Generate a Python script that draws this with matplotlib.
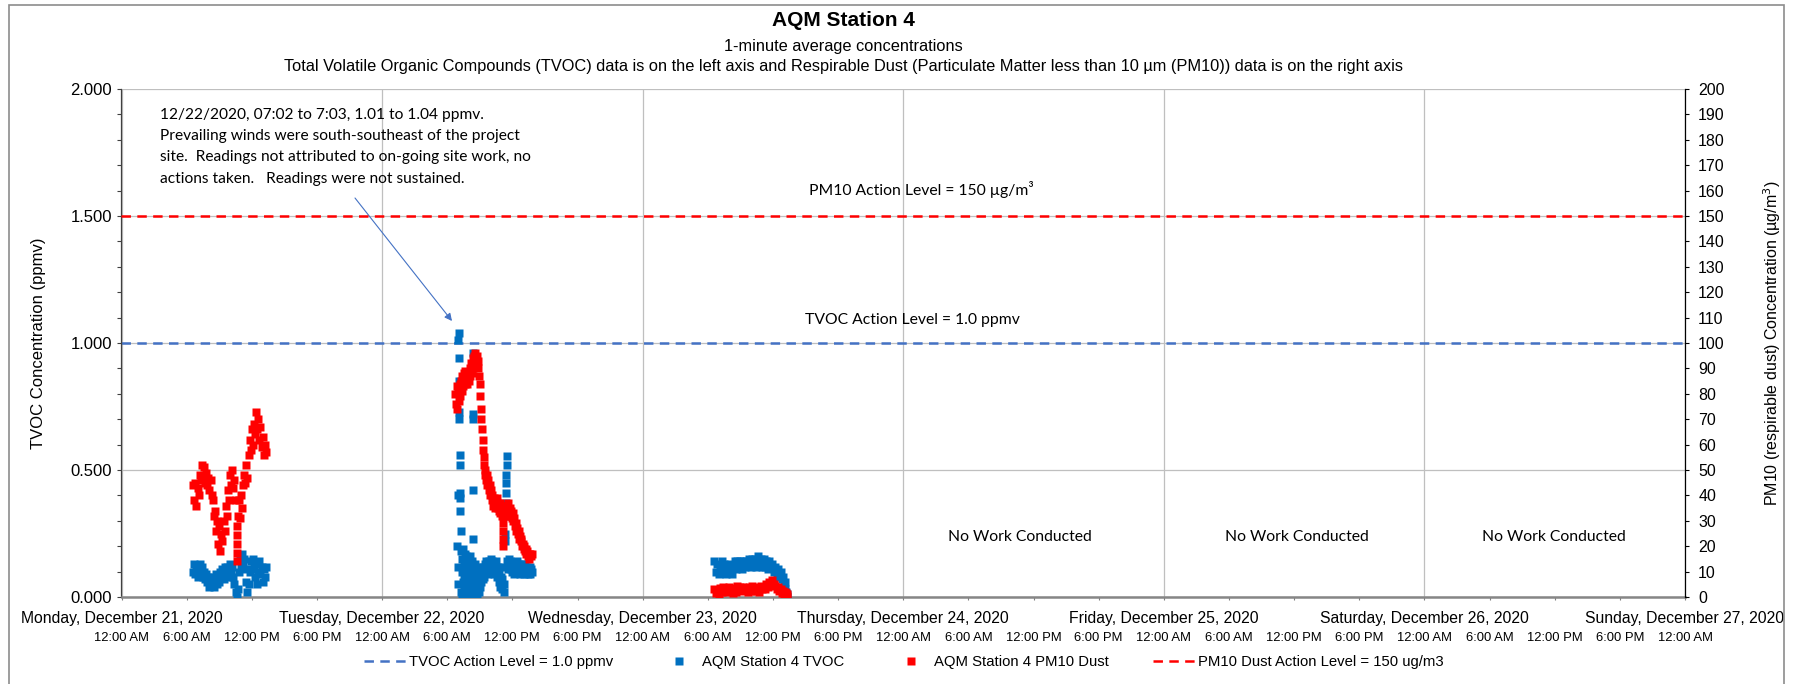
import matplotlib
matplotlib.use("Agg")
import matplotlib.pyplot as plt
import matplotlib.dates as mdates
from matplotlib.lines import Line2D
from matplotlib.patches import Rectangle
from matplotlib.ticker import MultipleLocator, FuncFormatter
import pandas as pd

plt.rcParams['font.family'] = ['Liberation Sans', 'DejaVu Sans']
plt.rcParams['lines.scale_dashes'] = False

# ---------------- data ----------------
title = "AQM Station 4"
subtitle1 = "1-minute average concentrations"
subtitle2 = ("Total Volatile Organic Compounds (TVOC) data is on the left axis and Respirable Dust "
             "(Particulate Matter less than 10 µm (PM10)) data is on the right axis")
day_ticks = ["2020-12-21", "2020-12-22", "2020-12-23", "2020-12-24",
             "2020-12-25", "2020-12-26", "2020-12-27"]
tvoc_action = 1.0
pm10_action = 150
legend_labels = ["TVOC Action Level = 1.0 ppmv", "AQM Station 4 TVOC",
                 "AQM Station 4 PM10 Dust", "PM10 Dust Action Level = 150 ug/m3"]
note_lines = ["12/22/2020, 07:02 to 7:03, 1.01 to 1.04 ppmv.",
              "Prevailing winds were south-southeast of the project",
              "site.  Readings not attributed to on-going site work, no",
              "actions taken.   Readings were not sustained."]
no_work_text = "No Work Conducted"

# Monday Dec 21 (time, TVOC ppmv)
tvoc_dec21 = [("06:36", .10), ("06:42", .13), ("06:48", .09), ("06:54", .12), ("07:00", .08), ("07:06", .11),
              ("07:12", .13), ("07:18", .09), ("07:24", .12), ("07:30", .08), ("07:36", .10), ("07:42", .07),
              ("07:48", .09), ("07:54", .06), ("08:00", .08), ("08:06", .04), ("08:12", .07), ("08:18", .05),
              ("08:24", .08), ("08:30", .04), ("08:36", .06), ("08:42", .09), ("08:48", .05), ("08:54", .08),
              ("09:00", .06), ("09:06", .10), ("09:12", .08), ("09:18", .11), ("09:24", .07), ("09:30", .12),
              ("09:36", .09), ("09:42", .12), ("09:48", .08), ("09:54", .11), ("10:00", .13), ("10:06", .09),
              ("10:12", .12), ("10:18", .08), ("10:24", .05), ("10:30", .02), ("10:36", .00), ("10:42", .03),
              ("10:48", .10), ("10:54", .15), ("11:00", .12), ("11:06", .17), ("11:12", .13), ("11:18", .15),
              ("11:24", .11), ("11:30", .06), ("11:36", .02), ("11:42", .05), ("11:48", .10), ("11:54", .14),
              ("12:00", .11), ("12:06", .15), ("12:12", .12), ("12:18", .08), ("12:24", .13), ("12:30", .05),
              ("12:36", .10), ("12:42", .14), ("12:48", .09), ("12:54", .12), ("13:00", .06), ("13:06", .11),
              ("13:12", .08), ("13:18", .12)]
# Monday Dec 21 (time, PM10 ug/m3)
pm10_dec21 = [("06:36", 44), ("06:42", 38), ("06:48", 45), ("06:54", 36), ("07:00", 43), ("07:06", 40),
              ("07:12", 48), ("07:18", 46), ("07:24", 52), ("07:30", 47), ("07:36", 51), ("07:42", 45),
              ("07:48", 49), ("07:54", 44), ("08:00", 47), ("08:06", 42), ("08:12", 46), ("08:18", 40),
              ("08:24", 38), ("08:30", 32), ("08:36", 34), ("08:42", 26), ("08:48", 30), ("08:54", 21),
              ("09:00", 28), ("09:06", 18), ("09:12", 25), ("09:18", 22), ("09:24", 30), ("09:30", 26),
              ("09:36", 36), ("09:42", 32), ("09:48", 42), ("09:54", 38), ("10:00", 48), ("10:06", 44),
              ("10:12", 50), ("10:18", 43), ("10:24", 46), ("10:30", 38), ("10:36", 28), ("10:36", 24.5),
              ("10:36", 21), ("10:36", 17.5), ("10:36", 14), ("10:42", 32), ("10:48", 38), ("10:54", 31),
              ("11:00", 40), ("11:06", 35), ("11:12", 44), ("11:18", 48), ("11:24", 45), ("11:30", 52),
              ("11:36", 47), ("11:42", 56), ("11:48", 62), ("11:54", 58), ("12:00", 66), ("12:06", 60),
              ("12:12", 68), ("12:18", 64), ("12:24", 73), ("12:30", 66), ("12:36", 70), ("12:42", 62),
              ("12:48", 67), ("12:54", 59), ("13:00", 63), ("13:06", 56), ("13:12", 60), ("13:18", 57)]

# Tuesday Dec 22 (time, TVOC ppmv)
tvoc_dec22 = [("06:56", .20), ("06:58", .05), ("07:00", .12), ("07:01", .40), ("07:02", 1.01), ("07:03", 1.04),
              ("07:04", .94), ("07:05", .85), ("07:06", .73), ("07:07", .70), ("07:08", .56), ("07:09", .52),
              ("07:10", .41), ("07:11", .39), ("07:12", .34), ("07:14", .26), ("07:16", .18), ("07:18", .02),
              ("07:20", .10), ("07:22", .00), ("07:24", .15), ("07:26", .06), ("07:28", .19), ("07:30", .08),
              ("07:32", .13), ("07:34", .03), ("07:36", .17), ("07:38", .07), ("07:40", .12), ("07:42", .01),
              ("07:44", .16), ("07:46", .09), ("07:48", .14), ("07:50", .04), ("07:52", .11), ("07:54", .06),
              ("07:56", .15), ("07:58", .02), ("08:00", .10), ("08:02", .13), ("08:04", .05), ("08:06", .16),
              ("08:08", .08), ("08:10", .12), ("08:12", .00), ("08:14", .09), ("08:16", .14), ("08:18", .04),
              ("08:20", .23), ("08:22", .96), ("08:23", .72), ("08:24", .70), ("08:25", .42), ("08:26", .10),
              ("08:28", .06), ("08:30", .12), ("08:32", .02), ("08:34", .08), ("08:36", .13), ("08:38", .04),
              ("08:40", .10), ("08:42", .01), ("08:44", .07), ("08:46", .11), ("08:48", .03), ("08:50", .09),
              ("08:52", .05), ("08:54", .12), ("08:56", .02), ("08:58", .08), ("09:00", .04), ("09:04", .10),
              ("09:08", .06), ("09:12", .11), ("09:16", .07), ("09:20", .12), ("09:24", .08), ("09:28", .13),
              ("09:32", .10), ("09:36", .14), ("09:40", .11), ("09:44", .13), ("09:48", .09), ("09:52", .14),
              ("09:56", .11), ("10:00", .15), ("10:04", .12), ("10:08", .14), ("10:12", .10), ("10:16", .13),
              ("10:20", .09), ("10:24", .12), ("10:28", .14), ("10:32", .11), ("10:36", .08), ("10:40", .12),
              ("10:44", .06), ("10:48", .10), ("10:52", .04), ("10:56", .08), ("11:00", .03), ("11:04", .07),
              ("11:08", .12), ("11:12", .05), ("11:16", .02), ("11:20", .22), ("11:21", .25), ("11:22", .32),
              ("11:23", .34), ("11:24", .37), ("11:25", .41), ("11:26", .45), ("11:27", .48), ("11:28", .52),
              ("11:29", .555), ("11:32", .14), ("11:36", .11), ("11:40", .15), ("11:44", .12), ("11:48", .14),
              ("11:52", .11), ("11:56", .13), ("12:00", .10), ("12:04", .12), ("12:08", .09), ("12:12", .13),
              ("12:16", .10), ("12:20", .12), ("12:24", .14), ("12:28", .11), ("12:32", .13), ("12:36", .10),
              ("12:40", .12), ("12:44", .09), ("12:48", .11), ("12:52", .13), ("12:56", .10), ("13:00", .12),
              ("13:04", .09), ("13:08", .11), ("13:12", .13), ("13:16", .10), ("13:20", .12), ("13:24", .09),
              ("13:28", .11), ("13:32", .10), ("13:36", .12), ("13:40", .09), ("13:44", .11), ("13:48", .10)]
# Tuesday Dec 22 (time, PM10 ug/m3)
pm10_dec22 = [("06:44", 80), ("06:48", 76), ("06:52", 83), ("06:56", 74), ("07:00", 81), ("07:04", 77),
              ("07:08", 84), ("07:12", 79), ("07:16", 85), ("07:20", 81), ("07:24", 87), ("07:28", 83),
              ("07:32", 88), ("07:36", 84), ("07:40", 89), ("07:44", 85), ("07:48", 87), ("07:52", 84),
              ("07:56", 88), ("08:00", 85), ("08:04", 90), ("08:08", 87), ("08:12", 92), ("08:16", 88),
              ("08:20", 94), ("08:24", 90), ("08:28", 95), ("08:32", 91), ("08:36", 96), ("08:40", 92),
              ("08:44", 95), ("08:48", 90), ("08:52", 93), ("08:56", 87), ("09:00", 84), ("09:03", 79),
              ("09:06", 74), ("09:09", 70), ("09:12", 66), ("09:15", 62), ("09:18", 58), ("09:21", 55),
              ("09:24", 52), ("09:27", 50), ("09:30", 48), ("09:34", 46), ("09:38", 48), ("09:42", 44),
              ("09:46", 46), ("09:50", 42), ("09:54", 44), ("09:58", 40), ("10:02", 42), ("10:06", 38),
              ("10:10", 40), ("10:14", 36), ("10:18", 39), ("10:22", 35), ("10:26", 38), ("10:30", 36),
              ("10:34", 39), ("10:38", 35), ("10:42", 37), ("10:46", 34), ("10:50", 37), ("10:54", 33),
              ("10:58", 36), ("11:02", 32), ("11:06", 29), ("11:07", 26), ("11:08", 23), ("11:09", 20),
              ("11:10", 33), ("11:14", 36), ("11:18", 32), ("11:22", 35), ("11:26", 33), ("11:30", 36),
              ("11:34", 34), ("11:38", 37), ("11:42", 33), ("11:46", 35), ("11:50", 32), ("11:54", 34),
              ("11:58", 31), ("12:02", 33), ("12:06", 30), ("12:10", 31), ("12:14", 28), ("12:18", 29),
              ("12:22", 26), ("12:26", 27), ("12:30", 25), ("12:34", 26), ("12:38", 23), ("12:42", 24),
              ("12:46", 22), ("12:50", 23), ("12:54", 20), ("12:58", 21), ("13:02", 19), ("13:06", 20),
              ("13:10", 18), ("13:14", 19), ("13:18", 17), ("13:22", 18), ("13:26", 16), ("13:30", 17),
              ("13:34", 15), ("13:38", 17), ("13:42", 16), ("13:46", 17)]

# Wednesday Dec 23 (time, TVOC ppmv)
tvoc_dec23 = [("06:36", .14), ("06:44", .10), ("06:52", .13), ("07:00", .09), ("07:08", .12), ("07:16", .14),
              ("07:24", .10), ("07:32", .13), ("07:40", .09), ("07:48", .12), ("07:56", .10), ("08:04", .13),
              ("08:12", .09), ("08:20", .12), ("08:28", .14), ("08:36", .11), ("08:44", .14), ("08:52", .12),
              ("09:00", .14), ("09:08", .11), ("09:16", .14), ("09:24", .12), ("09:32", .14), ("09:40", .13),
              ("09:48", .15), ("09:56", .12), ("10:04", .15), ("10:12", .13), ("10:20", .15), ("10:28", .12),
              ("10:36", .16), ("10:44", .13), ("10:52", .15), ("11:00", .12), ("11:08", .15), ("11:16", .12),
              ("11:24", .14), ("11:32", .11), ("11:40", .14), ("11:48", .12), ("11:56", .13), ("12:04", .10),
              ("12:12", .12), ("12:20", .08), ("12:28", .11), ("12:36", .09), ("12:44", .10), ("12:50", .07),
              ("12:56", .08), ("13:00", .05), ("13:04", .03), ("13:08", .06), ("13:12", .02), ("13:16", .00),
              ("13:20", .01)]
# Wednesday Dec 23 (time, PM10 ug/m3)
pm10_dec23 = [("06:36", 3), ("06:44", 1.5), ("06:52", 2.5), ("07:00", 1), ("07:08", 3.5), ("07:16", 2),
              ("07:24", 4), ("07:32", 2.5), ("07:40", 3.5), ("07:48", 2), ("07:56", 4), ("08:04", 2.5),
              ("08:12", 3), ("08:20", 1.5), ("08:28", 3.5), ("08:36", 2), ("08:44", 4.5), ("08:52", 3),
              ("09:00", 4), ("09:08", 2.5), ("09:16", 4), ("09:24", 3), ("09:32", 3.5), ("09:40", 2),
              ("09:48", 4), ("09:56", 2.5), ("10:04", 4.5), ("10:12", 3), ("10:20", 4), ("10:28", 2.5),
              ("10:36", 3.5), ("10:44", 2), ("10:52", 4.5), ("11:00", 3), ("11:08", 4), ("11:16", 3),
              ("11:24", 5), ("11:32", 4), ("11:40", 6), ("11:48", 5), ("11:56", 6.5), ("12:04", 5),
              ("12:12", 4.5), ("12:20", 3), ("12:28", 4), ("12:36", 2.5), ("12:44", 3), ("12:50", 1.5),
              ("12:56", 2.5), ("13:00", 1), ("13:04", 2), ("13:08", 1), ("13:12", 1.5), ("13:16", 0.5),
              ("13:20", 1)]

tvoc_series = [("2020-12-21", tvoc_dec21), ("2020-12-22", tvoc_dec22), ("2020-12-23", tvoc_dec23)]
pm10_series = [("2020-12-21", pm10_dec21), ("2020-12-22", pm10_dec22), ("2020-12-23", pm10_dec23)]

# ---------------- styling / layout ----------------
W, H = 1797, 684
BLUE_PTS = "#0070C0"
RED_PTS = "#FF0000"
BLUE_LINE = "#4472C4"
RED_LINE = "#FF0000"
GRID = "#BFBFBF"
DASH = (6.8, 4.6)
MS = 6.0


def fx(px):
    return px / W


def fy(py):
    return 1 - py / H


def to_xy(date, pairs):
    t = pd.to_datetime([f"{date} {hm}" for hm, _ in pairs])
    return mdates.date2num(t.to_pydatetime()), [v for _, v in pairs]


fig = plt.figure(figsize=(W / 100, H / 100), dpi=100)
fig.patch.set_facecolor("white")

L, R, T, B = 121.5, 1685, 89, 597
ax = fig.add_axes([fx(L), fy(B), fx(R) - fx(L), fy(T) - fy(B)])
ax2 = ax.twinx()

x0 = mdates.date2num(pd.Timestamp(day_ticks[0]).to_pydatetime())
x1 = mdates.date2num(pd.Timestamp(day_ticks[-1]).to_pydatetime())
ax.set_xlim(x0, x1)
ax.set_ylim(0, 2)
ax2.set_ylim(0, 200)

# grid
ax.set_axisbelow(True)
ax.yaxis.set_major_locator(MultipleLocator(0.5))
ax.yaxis.set_minor_locator(MultipleLocator(0.1))
ax.xaxis.set_major_locator(mdates.HourLocator(byhour=[0]))
ax.xaxis.set_minor_locator(mdates.HourLocator(byhour=[6, 12, 18]))
ax.grid(axis="y", which="major", color=GRID, lw=0.9)
ax.grid(axis="x", which="major", color=GRID, lw=0.9)


def fmt_time(x, pos=None):
    d = pd.Timestamp(mdates.num2date(x)).round("min")
    h12 = d.hour % 12 or 12
    return f"{h12}:{d.minute:02d} {'AM' if d.hour < 12 else 'PM'}"


ax.xaxis.set_major_formatter(FuncFormatter(fmt_time))
ax.xaxis.set_minor_formatter(FuncFormatter(fmt_time))
ax.yaxis.set_major_formatter(FuncFormatter(lambda v, p: f"{v:.3f}"))
ax.tick_params(axis="x", which="both", direction="out", length=2.2, width=0.8, color="#7F7F7F",
               pad=23, labelsize=9.4)
ax.tick_params(axis="y", which="both", direction="out", length=3, width=0.8, color="#404040",
               pad=4, labelsize=12)

ax2.yaxis.set_major_locator(MultipleLocator(10))
ax2.yaxis.set_major_formatter(FuncFormatter(lambda v, p: f"{v:.0f}"))
ax2.tick_params(axis="y", direction="out", length=3, width=0.8, color="#000000", pad=6.5, labelsize=11.5)

for s in ["top", "right"]:
    ax.spines[s].set_visible(False)
for s in ["top", "left", "bottom"]:
    ax2.spines[s].set_visible(False)
ax.spines["left"].set_color("#404040")
ax.spines["left"].set_linewidth(0.9)
ax.spines["bottom"].set_color("#868686")
ax.spines["bottom"].set_linewidth(1.8)
ax2.spines["right"].set_color("#000000")
ax2.spines["right"].set_linewidth(0.9)

# action levels
ax.axhline(tvoc_action, color=BLUE_LINE, lw=1.8, dashes=DASH, zorder=2)
ax2.axhline(pm10_action, color=RED_LINE, lw=1.8, dashes=DASH, zorder=2)

# data
for date, pairs in tvoc_series:
    xs, ys = to_xy(date, pairs)
    ax.plot(xs, ys, ls="none", marker="s", ms=MS, mec="none", color=BLUE_PTS, zorder=3)
for date, pairs in pm10_series:
    xs, ys = to_xy(date, pairs)
    ax2.plot(xs, ys, ls="none", marker="s", ms=MS, mec="none", color=RED_PTS, zorder=3)

# day labels
for d in pd.to_datetime(day_ticks):
    ax.annotate(f"{d:%A, %B} {d.day}, {d.year}", xy=(mdates.date2num(d.to_pydatetime()), 0),
                xycoords=("data", "axes fraction"), xytext=(0, -21), textcoords="offset pixels",
                ha="center", va="center", fontsize=11.3, annotation_clip=False)

# titles
fig.text(fx(843), fy(21), title, ha="center", va="center", fontsize=15, fontweight="bold")
fig.text(fx(843), fy(47), subtitle1, ha="center", va="center", fontsize=11.8)
fig.text(fx(843), fy(66.5), subtitle2, ha="center", va="center", fontsize=11.8)

# axis titles
fig.text(fx(39), fy(343), "TVOC Concentration (ppmv)", rotation=90, ha="center", va="center", fontsize=12)
fig.text(fx(1772), fy(343), "PM10 (respirable dust) Concentration (µg/m$^3$)", rotation=90,
         ha="center", va="center", fontsize=11.5)

# in-plot texts (Calibri-like)
CAL = ["Lato", "DejaVu Sans"]
fig.text(fx(921), fy(190), "PM10 Action Level = 150 µg/m³", ha="center", va="center", fontsize=11.3, family=CAL)
fig.text(fx(912), fy(320), "TVOC Action Level = 1.0 ppmv", ha="center", va="center", fontsize=11.3, family=CAL)
for cx in [1020, 1297, 1554]:
    fig.text(fx(cx), fy(537), no_work_text, ha="center", va="center", fontsize=11.3, family=CAL)
for i, line in enumerate(note_lines):
    fig.text(fx(160), fy(115 + 21.2 * i), line, ha="left", va="center", fontsize=11.2, family=CAL)

ax.annotate("", xy=(452, H - 321), xycoords="figure pixels", xytext=(355, H - 198),
            textcoords="figure pixels",
            arrowprops=dict(arrowstyle="-|>", color=BLUE_LINE, lw=0.8, mutation_scale=11,
                            shrinkA=0, shrinkB=0))

# legend
handles = [Line2D([], [], color=BLUE_LINE, lw=1.8, dashes=DASH),
           Line2D([], [], ls="none", marker="s", ms=MS, mec="none", color=BLUE_PTS),
           Line2D([], [], ls="none", marker="s", ms=MS, mec="none", color=RED_PTS),
           Line2D([], [], color=RED_LINE, lw=1.8, dashes=DASH)]
fig.legend(handles, legend_labels, loc="center", bbox_to_anchor=(fx(904), fy(662)), ncol=4,
           frameon=False, fontsize=10.7, handlelength=2.9, handletextpad=0.1, columnspacing=3.0)

# chart-area border
fig.add_artist(Rectangle((fx(9), fy(720)), fx(1784) - fx(9), fy(4.5) - fy(720),
                         transform=fig.transFigure, fill=False, edgecolor="#8C8C8C", lw=1.2,
                         clip_on=False))

fig.savefig("out.png", dpi=100, facecolor="white")
